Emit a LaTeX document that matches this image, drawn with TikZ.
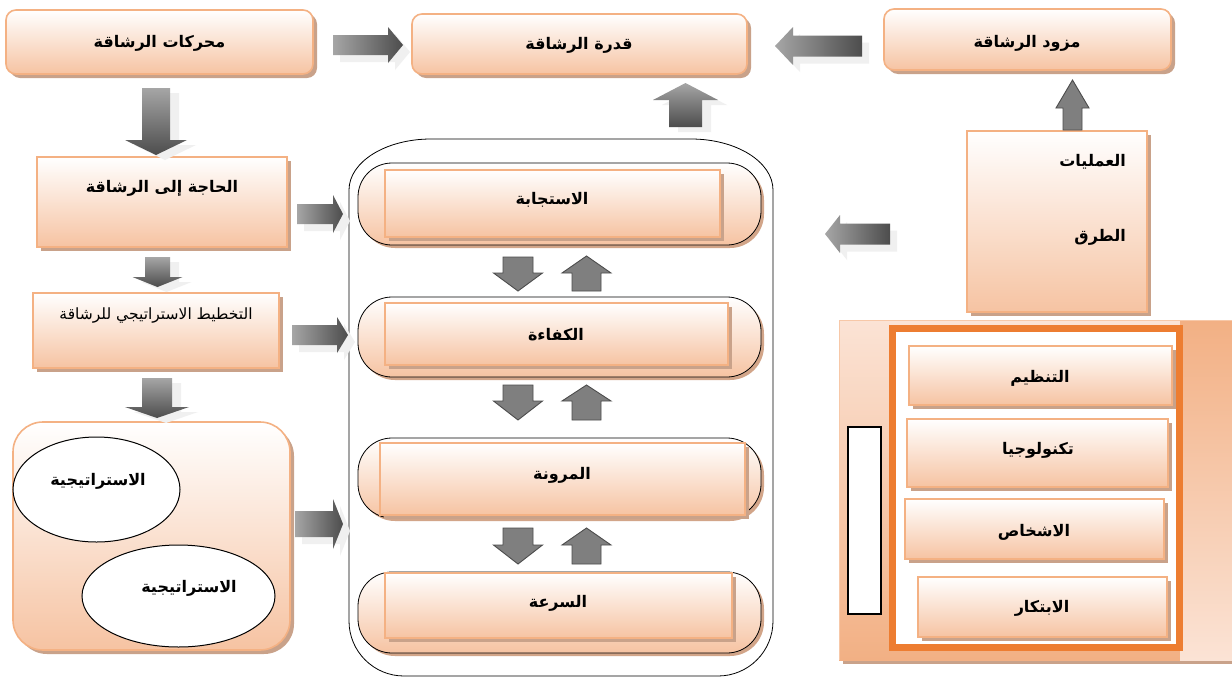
\documentclass[tikz,border=0pt]{standalone}
\usepackage{fontspec}
\newfontfamily\arabicfont[Script=Arabic]{DejaVu Sans}
\TeXXeTstate=1
\usetikzlibrary{shapes.geometric,shadows}
\definecolor{peachb}{HTML}{F4B183}
\definecolor{peachf}{HTML}{F6C3A2}
\definecolor{shadowc}{HTML}{C9A28A}
\definecolor{frameo}{HTML}{ED7D31}
\definecolor{dgray}{HTML}{7F7F7F}
\definecolor{panlight}{HTML}{FBE3D5}
\definecolor{pandark}{HTML}{F2B084}
\newcommand\artxt[1]{{\arabicfont\bfseries\beginR #1\endR}}
\newcommand\artxtr[1]{{\arabicfont\beginR #1\endR}}
% gradient block arrow, horizontal: start, head base, tip, ymid, half shaft, half head
\newcommand\garH[6]{%
  \fill[refl,shift={(7,7)}] (#1,{#4-#5}) -- (#2,{#4-#5}) -- (#2,{#4-#6}) -- (#3,#4) -- (#2,{#4+#6}) -- (#2,{#4+#5}) -- (#1,{#4+#5}) -- cycle;
  \shade[garrowh] (#1,{#4-#5}) -- (#2,{#4-#5}) -- (#2,{#4-#6}) -- (#3,#4) -- (#2,{#4+#6}) -- (#2,{#4+#5}) -- (#1,{#4+#5}) -- cycle;}
% gradient block arrow, vertical: start, head base, tip, xmid, half shaft, half head
\newcommand\garV[6]{%
  \fill[refl,shift={(9,5)}] ({#4-#5},#1) -- ({#4-#5},#2) -- ({#4-#6},#2) -- (#4,#3) -- ({#4+#6},#2) -- ({#4+#5},#2) -- ({#4+#5},#1) -- cycle;
  \shade[garrowv] ({#4-#5},#1) -- ({#4-#5},#2) -- ({#4-#6},#2) -- (#4,#3) -- ({#4+#6},#2) -- ({#4+#5},#2) -- ({#4+#5},#1) -- cycle;}
% dark block arrow, vertical
\newcommand\darV[6]{%
  \draw[darrow] ({#4-#5},#1) -- ({#4-#5},#2) -- ({#4-#6},#2) -- (#4,#3) -- ({#4+#6},#2) -- ({#4+#5},#2) -- ({#4+#5},#1) -- cycle;}
\begin{document}
\begin{tikzpicture}[x=1pt,y=-1pt,
  box/.style={draw=peachb, line width=1.6pt, top color=white, bottom color=peachf,
    inner sep=0pt, outer sep=0pt,
    drop shadow={shadow xshift=4pt, shadow yshift=-4pt, fill=shadowc, opacity=1}},
  pill/.style={draw=black, line width=0.8pt, top color=white, bottom color=peachf,
    rounded corners=34pt, inner sep=0pt, outer sep=0pt,
    drop shadow={shadow xshift=3pt, shadow yshift=-3pt, fill=shadowc!80!peachb, opacity=1}},
  ell/.style={ellipse, draw=black, line width=1pt, fill=white, inner sep=0pt},
  lbl/.style={inner sep=0pt, font=\fontsize{16}{18}\selectfont},
  refl/.style={fill=gray!12},
  garrowh/.style={left color=black!35, right color=black!70},
  garrowv/.style={top color=black!35, bottom color=black!70},
  darrow/.style={fill=dgray, draw=black!70, line width=0.9pt, line join=miter}
]
\useasboundingbox (0,0) rectangle (1232,678);
\fill[white] (0,0) rectangle (1232,678);

% ---------- top row ----------
\node[box, rounded corners=10pt, minimum width=307pt, minimum height=64pt] (drivers) at (159.5,42) {};
\node[lbl] (tdrivers) at (159.5,43) {\artxt{محركات الرشاقة}};
\node[box, rounded corners=10pt, minimum width=335pt, minimum height=60pt] (capab) at (579.5,44) {};
\node[lbl] (tcapab) at (579,45) {\artxt{قدرة الرشاقة}};
\node[box, rounded corners=10pt, minimum width=287pt, minimum height=61pt] (provider) at (1027.5,39.5) {};
\node[lbl] (tprovider) at (1027,43) {\artxt{مزود الرشاقة}};

% ---------- left column ----------
\node[box, minimum width=250pt, minimum height=90pt] (need) at (162,202) {};
\node[lbl] (tneed) at (162,188) {\artxt{الحاجة إلى الرشاقة}};
\node[box, minimum width=246pt, minimum height=75pt] (plan) at (156,330.5) {};
\node[lbl, font=\fontsize{15.5}{17}\selectfont] (tplan) at (156,315) {\artxtr{التخطيط الاستراتيجي للرشاقة}};
\node[box, rounded corners=30pt, minimum width=277pt, minimum height=228pt] (strat) at (151.5,536) {};
\node[ell, minimum width=167pt, minimum height=105pt] (ell1) at (96.5,489.5) {};
\node[lbl] (tell1) at (98,481) {\artxt{الاستراتيجية}};
\node[ell, minimum width=193pt, minimum height=102pt] (ell2) at (178.5,596) {};
\node[lbl] (tell2) at (189,588) {\artxt{الاستراتيجية}};

% ---------- centre container ----------
\node[inner sep=0pt, minimum width=424pt, minimum height=537pt] (cont) at (561,407.5) {};
\draw[black, line width=0.8pt]
  (349,190) arc[start angle=180, end angle=270, x radius=82, y radius=51]
  -- (691,139) arc[start angle=270, end angle=360, x radius=82, y radius=51]
  -- (773,621) arc[start angle=0, end angle=90, x radius=55, y radius=55]
  -- (404,676) arc[start angle=90, end angle=180, x radius=55, y radius=55] -- cycle;

\node[pill, minimum width=403pt, minimum height=82pt] (p1) at (559.5,204) {};
\node[box, line width=1.4pt, minimum width=335pt, minimum height=67pt] (r1) at (552.5,203.5) {};
\node[lbl] (t1) at (552,200) {\artxt{الاستجابة}};

\node[pill, minimum width=403pt, minimum height=80pt] (p2) at (559.5,337) {};
\node[box, line width=1.4pt, minimum width=343pt, minimum height=62pt] (r2) at (556.5,334) {};
\node[lbl] (t2) at (556,335) {\artxt{الكفاءة}};

\node[pill, minimum width=403pt, minimum height=80pt] (p3) at (559.5,478) {};
\node[box, line width=1.4pt, minimum width=365pt, minimum height=72pt] (r3) at (562.5,479) {};
\node[lbl] (t3) at (562,475) {\artxt{المرونة}};

\node[pill, minimum width=403pt, minimum height=81pt] (p4) at (559.5,612.5) {};
\node[box, line width=1.4pt, minimum width=347pt, minimum height=65pt] (r4) at (558.5,605.5) {};
\node[lbl] (t4) at (558,603) {\artxt{السرعة}};

% ---------- right side ----------
\node[box, minimum width=180pt, minimum height=181pt] (methods) at (1057,221.5) {};
\node[lbl, anchor=east] (tm1) at (1126,162) {\artxt{العمليات}};
\node[lbl, anchor=east] (tm2) at (1126,237) {\artxt{الطرق}};

% panel
\fill[shadowc] (843,657) rectangle (1236,664);
\shade[top color=panlight, bottom color=pandark] (839,320) rectangle (1200,660);
\shade[top color=pandark, bottom color=panlight] (1180,320) rectangle (1234,660);
\draw[peachb!70, line width=1pt] (1232,320.5) -- (839.5,320.5) -- (839.5,660);
\node[draw=frameo, line width=7pt, fill=white, minimum width=287pt, minimum height=319pt, inner sep=0pt] (frame) at (1036,488) {};
\node[draw=black, line width=1.3pt, fill=white, minimum width=33pt, minimum height=187pt, inner sep=0pt] (slot) at (864.5,520.5) {};

\node[box, minimum width=263pt, minimum height=59pt] (org) at (1040.5,375.5) {};
\node[lbl] (torg) at (1040,378) {\artxt{التنظيم}};
\node[box, minimum width=261pt, minimum height=68pt] (tech) at (1037.5,453) {};
\node[lbl] (ttech) at (1038,450) {\artxt{تكنولوجيا}};
\node[box, minimum width=259pt, minimum height=60pt] (people) at (1034.5,529) {};
\node[lbl] (tpeople) at (1034,532) {\artxt{الاشخاص}};
\node[box, minimum width=249pt, minimum height=60pt] (innov) at (1042.5,607) {};
\node[lbl] (tinnov) at (1042,608) {\artxt{الابتكار}};

% ---------- block arrows ----------
\garH{333}{388}{403}{45}{10}{18}
\garH{862}{793}{775}{46}{10.5}{19}
\garV{127}{100}{83}{685.5}{16.5}{32.5}
\garV{88}{140}{155}{156}{14}{31}
\garV{257}{277}{287}{157.5}{12.5}{25}
\garV{378}{407}{418}{157}{15}{32}
\garH{297}{333}{343}{214}{10}{19}
\garH{292}{337}{348}{335}{10}{18}
\garH{295}{333}{343}{524}{13}{25}
\garH{890}{840}{825}{234}{10.5}{19}
\darV{130}{108}{80}{1072.5}{9.5}{16.5}

\darV{257}{273}{291}{518}{15}{24.5}
\darV{291}{273}{256}{586.5}{14.5}{24.5}
\darV{385}{401}{420}{518}{15}{24.5}
\darV{420}{401}{385}{586.5}{14.5}{24.5}
\darV{528}{545}{564}{518}{15}{24.5}
\darV{564}{545}{528}{586.5}{14.5}{24.5}
\end{tikzpicture}
\end{document}
